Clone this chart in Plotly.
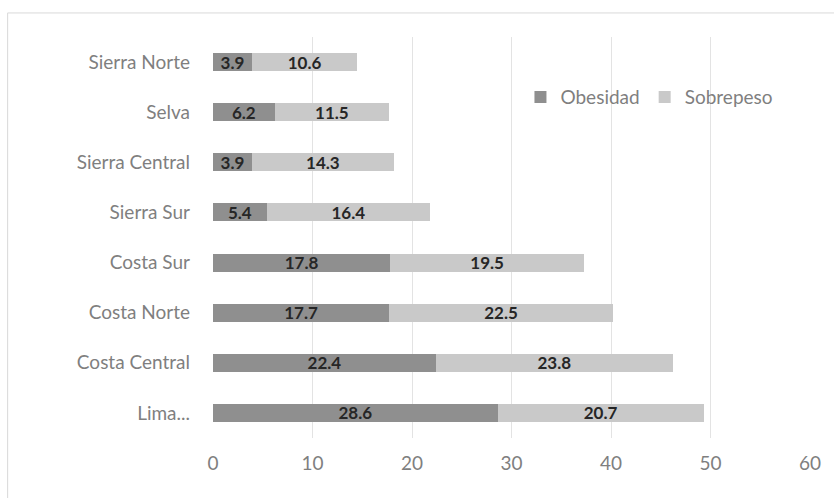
import plotly.graph_objects as go

regiones = ["Lima...", "Costa Central", "Costa Norte", "Costa Sur",
            "Sierra Sur", "Sierra Central", "Selva", "Sierra Norte"]
obesidad = [28.6, 22.4, 17.7, 17.8, 5.4, 3.9, 6.2, 3.9]
sobrepeso = [20.7, 23.8, 22.5, 19.5, 16.4, 14.3, 11.5, 10.6]
x_ticks = [0, 10, 20, 30, 40, 50, 60]

FONT = "Lato"
lab_font = dict(family=FONT, size=17, color="#262626", weight="bold")

fig = go.Figure()
fig.add_trace(go.Bar(
    y=regiones, x=obesidad, name="Obesidad", orientation="h",
    marker=dict(color="#8f8f8f", line=dict(width=0)),
    text=[f"{v:.1f}" for v in obesidad], textposition="inside",
    insidetextanchor="middle", textfont=lab_font, constraintext="none",
))
fig.add_trace(go.Bar(
    y=regiones, x=sobrepeso, name="Sobrepeso", orientation="h",
    marker=dict(color="#c9c9c9", line=dict(width=0)),
    text=[f"{v:.1f}" for v in sobrepeso], textposition="inside",
    insidetextanchor="middle", textfont=lab_font, constraintext="none",
))

fig.update_layout(
    barmode="stack", bargap=0.64,
    width=834, height=498,
    margin=dict(l=213, r=24, t=37, b=60),
    paper_bgcolor="white", plot_bgcolor="white",
    font=dict(family=FONT, color="#7f7f7f", size=19),
    uniformtext=dict(minsize=10, mode=False),
    showlegend=True,
    legend=dict(orientation="h", x=0.515, y=0.85, xanchor="left", yanchor="middle",
                font=dict(family=FONT, size=19, color="#7f7f7f"),
                bgcolor="rgba(0,0,0,0)", itemwidth=30, traceorder="normal"),
    xaxis=dict(range=[0, 60], tickvals=x_ticks, showgrid=True, gridcolor="#e3e3e3",
               gridwidth=1, zeroline=False, showline=False, ticks="",
               ticklabelstandoff=12,
               tickfont=dict(family=FONT, size=19, color="#7f7f7f")),
    yaxis=dict(showgrid=False, zeroline=False, showline=False, ticks="",
               ticklabelstandoff=22,
               tickfont=dict(family=FONT, size=19, color="#7f7f7f")),
    shapes=[dict(type="rect", xref="paper", yref="paper",
                 x0=-0.344, x1=1.2, y0=-0.2, y1=1.06,
                 line=dict(color="#d9d9d9", width=1), fillcolor="rgba(0,0,0,0)", layer="below")],
)

fig.write_html("out.html")
